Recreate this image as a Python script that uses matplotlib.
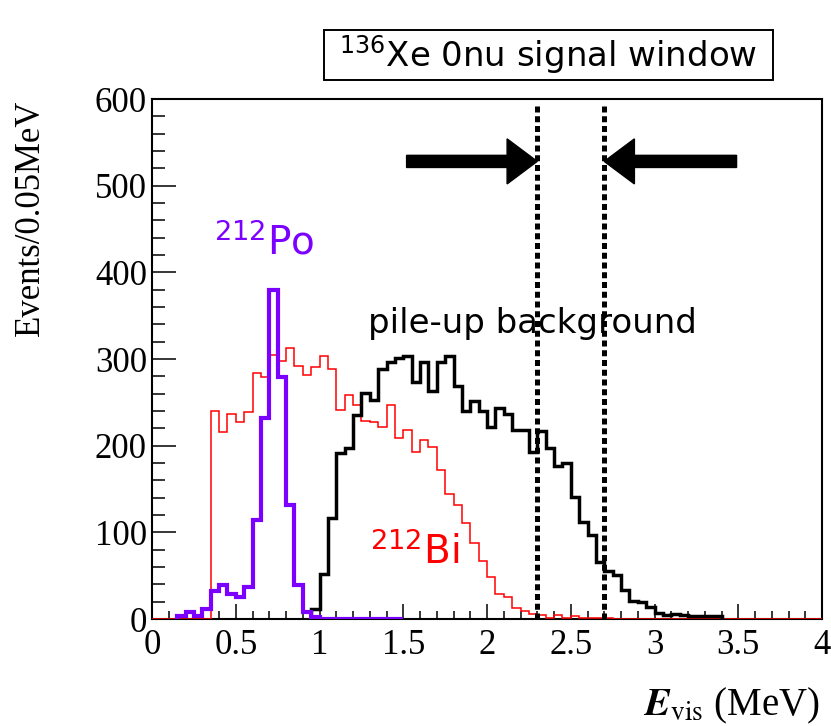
import numpy as np
import matplotlib
matplotlib.use("Agg")
from matplotlib import pyplot as plt
from matplotlib.patches import Rectangle
from matplotlib.ticker import MultipleLocator, FormatStrFormatter

# Binning: 0.05 MeV per bin
bin_width = 0.05

# 212Bi spectrum, counts per bin starting at 0.35 MeV
bi_start = 0.35
bi_counts = [240, 216, 236, 227, 239, 284, 279, 305, 298, 313,
             292, 281, 291, 304, 289, 241, 259, 247, 228, 227,
             221, 247, 209, 218, 193, 206, 198, 172, 144, 132,
             111, 88, 67, 48, 29, 25, 13, 9, 6, 5,
             1, 5, 1, 4, 1, 1, 1, 1]

# 212Po spectrum, counts per bin starting at 0.15 MeV
po_start = 0.15
po_counts = [4, 8, 3, 12, 32, 39, 29, 25, 37, 114,
             232, 380, 279, 132, 39, 8, 2, 0, 0, 0,
             0, 0, 0, 0, 0, 0, 0]

# pile-up background, counts per bin starting at 0.95 MeV
pu_start = 0.95
pu_counts = [12, 52, 117, 191, 197, 235, 261, 253, 289, 297,
             301, 304, 274, 297, 263, 297, 304, 269, 240, 252,
             240, 221, 243, 236, 218, 218, 193, 217, 197, 176,
             180, 141, 112, 97, 66, 55, 51, 34, 21, 20,
             14, 6.5, 5, 6, 5, 3.5, 3.5, 3, 3]

# 136Xe 0nu signal window edges (MeV)
window = [2.3, 2.7]

purple = "#7B00FF"


def edges_for(start, counts):
    return start + bin_width * np.arange(len(counts) + 1)


fig = plt.figure(figsize=(8.31, 7.26), dpi=100)
ax = fig.add_axes([152 / 831, 1 - 619 / 726, 670 / 831, 520 / 726])

# red histogram spans the full axis range
bi_full = np.concatenate([np.zeros(int(round(bi_start / bin_width))), bi_counts])
bi_full = np.concatenate([bi_full, np.zeros(80 - len(bi_full))])
ax.stairs(bi_full, edges_for(0.0, bi_full), color="#FF0000", lw=1.1, zorder=3)
ax.stairs(pu_counts, edges_for(pu_start, pu_counts), color="black", lw=2.5, zorder=4)
ax.stairs(po_counts, edges_for(po_start, po_counts), color=purple, lw=3.0, zorder=5)

# signal window
ax.vlines(window, 0, 593, colors="black", lw=3.6,
          linestyles=[(0, (1.2, 0.75))], zorder=6)
arrow_y = 528
ax.arrow(1.52, arrow_y, window[0] - 1.52, 0, width=14, head_width=52,
         head_length=0.18, length_includes_head=True, color="black", zorder=7)
ax.arrow(3.49, arrow_y, window[1] - 3.49, 0, width=14, head_width=52,
         head_length=0.18, length_includes_head=True, color="black", zorder=7)

# labels on the plot
ax.text(1.29, 341, "pile-up background", fontsize=24.5, family="DejaVu Sans",
        va="center", ha="left", zorder=8)
ax.text(0.372, 434, r"$^{212}$Po", fontsize=28, family="DejaVu Sans",
        math_fontfamily="dejavusans", color=purple, va="center", ha="left")
ax.text(1.30, 77, r"$^{212}$Bi", fontsize=28, family="DejaVu Sans",
        math_fontfamily="dejavusans", color="#FF0000", va="center", ha="left")

# axes styling
ax.set_xlim(0, 4)
ax.set_ylim(0, 600)
ax.xaxis.set_major_locator(MultipleLocator(0.5))
ax.xaxis.set_minor_locator(MultipleLocator(0.1))
ax.yaxis.set_major_locator(MultipleLocator(100))
ax.yaxis.set_minor_locator(MultipleLocator(20))
ax.xaxis.set_major_formatter(FormatStrFormatter("%g"))
ax.yaxis.set_major_formatter(FormatStrFormatter("%g"))
ax.tick_params(axis="x", which="major", direction="in", length=10.8, width=1.1,
               pad=7, labelsize=25)
ax.tick_params(axis="x", which="minor", direction="in", length=5.8, width=1.1)
ax.tick_params(axis="y", which="major", direction="in", length=17.3, width=1.1,
               pad=3.6, labelsize=25)
ax.tick_params(axis="y", which="minor", direction="in", length=9.4, width=1.1)
ax.tick_params(top=False, right=False, which="both")
for lab in ax.get_xticklabels() + ax.get_yticklabels():
    lab.set_family("Liberation Serif")
for sp in ax.spines.values():
    sp.set_linewidth(1.5)

fig.text(30 / 831, 1 - 100 / 726, "Events/0.05MeV", rotation=90, fontsize=25,
         family="Liberation Serif", ha="center", va="top")
fig.text(820 / 831, 1 - 706 / 726, r"$\mathbfit{E}_{\mathrm{vis}}$ (MeV)",
         fontsize=28, family="Liberation Serif", math_fontfamily="stix",
         ha="right", va="center")

# boxed title
fig.patches.append(Rectangle((324 / 831, 1 - 80 / 726), 449 / 831, 50 / 726,
                             transform=fig.transFigure, fill=False,
                             edgecolor="black", lw=1.4))
fig.text(548 / 831, 1 - 55 / 726, r"$^{136}$Xe 0nu signal window", fontsize=24.5,
         family="DejaVu Sans", math_fontfamily="dejavusans", ha="center", va="center")

fig.savefig("out.png", dpi=100, facecolor="white")
